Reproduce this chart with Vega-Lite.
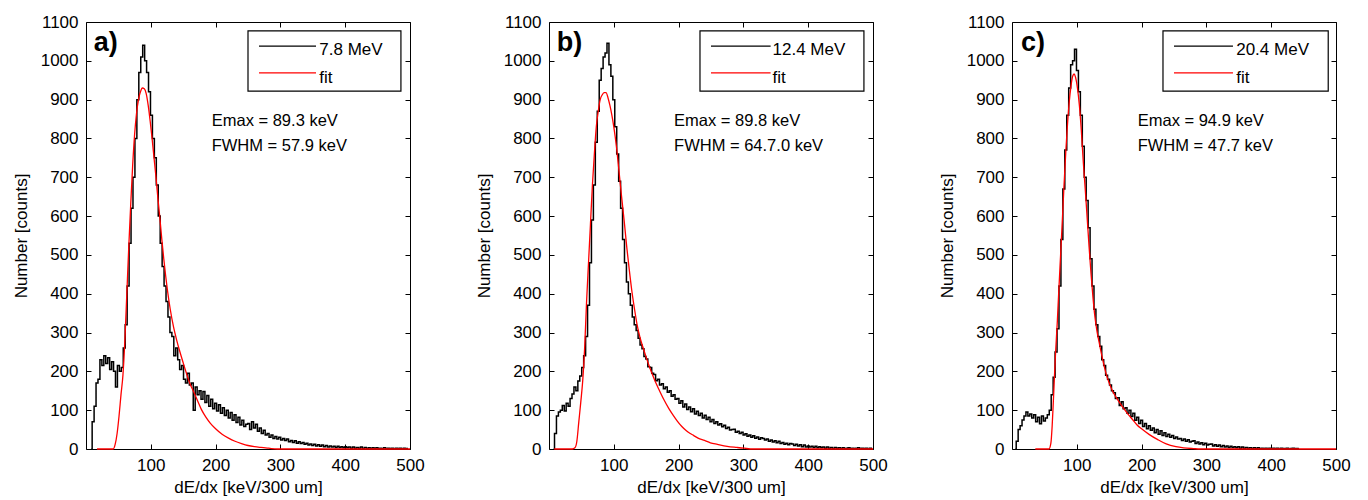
{
"$schema":"https://vega.github.io/schema/vega-lite/v6.json",
"padding":{"left":11,"top":12,"right":5,"bottom":2},
"background":"white",
"config":{"view":{"stroke":"#000","strokeWidth":1},"font":"Liberation Sans",
"axis":{"grid":false,"domain":false,"tickColor":"#000","tickSize":-5,"tickWidth":1,"labelColor":"#000","labelFontSize":17,"labelFont":"Liberation Sans","titleFont":"Liberation Sans","titleFontSize":17,"titleFontWeight":"normal","titleColor":"#000","labelPadding":13,"labelFlush":false,"format":"d"}},
"spacing":139,
"bounds":"flush",
"datasets":{
"hist_a":[{"x":8,"y":0},{"x":11,"y":70},{"x":14,"y":110},{"x":17,"y":170},{"x":20,"y":180},{"x":23,"y":230},{"x":26,"y":215},{"x":29,"y":240},{"x":32,"y":220},{"x":35,"y":235},{"x":38,"y":205},{"x":41,"y":225},{"x":44,"y":200},{"x":47,"y":160},{"x":50,"y":215},{"x":53,"y":200},{"x":56,"y":210},{"x":59,"y":260},{"x":62,"y":320},{"x":65,"y":420},{"x":68,"y":530},{"x":71,"y":620},{"x":74,"y":700},{"x":77,"y":800},{"x":80,"y":900},{"x":83,"y":970},{"x":86,"y":1010},{"x":89,"y":1040},{"x":92,"y":1000},{"x":95,"y":970},{"x":98,"y":920},{"x":101,"y":860},{"x":104,"y":800},{"x":107,"y":750},{"x":110,"y":680},{"x":113,"y":600},{"x":116,"y":530},{"x":119,"y":470},{"x":122,"y":420},{"x":125,"y":380},{"x":128,"y":340},{"x":131,"y":300},{"x":134,"y":290},{"x":137,"y":240},{"x":140,"y":260},{"x":143,"y":230},{"x":146,"y":205},{"x":149,"y":215},{"x":152,"y":180},{"x":155,"y":170},{"x":158,"y":195},{"x":161,"y":165},{"x":164,"y":170},{"x":167,"y":100},{"x":170,"y":160},{"x":173,"y":140},{"x":176,"y":150},{"x":179,"y":128},{"x":182,"y":148},{"x":185,"y":120},{"x":188,"y":138},{"x":191,"y":110},{"x":194,"y":128},{"x":197,"y":104},{"x":200,"y":118},{"x":203,"y":98},{"x":206,"y":114},{"x":209,"y":92},{"x":212,"y":106},{"x":215,"y":86},{"x":218,"y":100},{"x":221,"y":80},{"x":224,"y":94},{"x":227,"y":74},{"x":230,"y":88},{"x":233,"y":68},{"x":236,"y":82},{"x":239,"y":62},{"x":242,"y":74},{"x":245,"y":58},{"x":248,"y":64},{"x":251,"y":66},{"x":254,"y":50},{"x":257,"y":70},{"x":260,"y":54},{"x":263,"y":64},{"x":266,"y":46},{"x":269,"y":54},{"x":272,"y":40},{"x":275,"y":48},{"x":278,"y":36},{"x":281,"y":40},{"x":284,"y":30},{"x":287,"y":36},{"x":290,"y":27},{"x":293,"y":32},{"x":296,"y":26},{"x":299,"y":30},{"x":302,"y":23},{"x":305,"y":27},{"x":308,"y":22},{"x":311,"y":26},{"x":314,"y":19},{"x":317,"y":22},{"x":320,"y":17},{"x":323,"y":21},{"x":326,"y":15},{"x":329,"y":19},{"x":332,"y":14},{"x":335,"y":17},{"x":338,"y":12},{"x":341,"y":15},{"x":344,"y":10},{"x":347,"y":13},{"x":350,"y":9},{"x":353,"y":12},{"x":356,"y":8},{"x":359,"y":11},{"x":362,"y":7},{"x":365,"y":10},{"x":368,"y":6},{"x":371,"y":9},{"x":374,"y":5},{"x":377,"y":8},{"x":380,"y":5},{"x":383,"y":7},{"x":386,"y":4},{"x":389,"y":7},{"x":392,"y":4},{"x":395,"y":6},{"x":398,"y":3},{"x":401,"y":6},{"x":404,"y":3},{"x":407,"y":5},{"x":410,"y":2},{"x":413,"y":5},{"x":416,"y":2},{"x":419,"y":4},{"x":422,"y":2},{"x":425,"y":5},{"x":428,"y":1},{"x":431,"y":4},{"x":434,"y":1},{"x":437,"y":3},{"x":440,"y":1},{"x":443,"y":3},{"x":446,"y":1},{"x":449,"y":3},{"x":452,"y":1},{"x":455,"y":2},{"x":458,"y":1},{"x":461,"y":3},{"x":464,"y":0},{"x":467,"y":2},{"x":470,"y":1},{"x":473,"y":2},{"x":476,"y":0},{"x":479,"y":2},{"x":482,"y":1},{"x":485,"y":2},{"x":488,"y":0},{"x":491,"y":2},{"x":494,"y":1},{"x":497,"y":1}],
"fit_a":[{"x":17,"y":0},{"x":42,"y":0},{"x":45,"y":12},{"x":48,"y":40},{"x":51,"y":85},{"x":54,"y":140},{"x":57,"y":190},{"x":60,"y":280},{"x":63,"y":400},{"x":66,"y":520},{"x":69,"y":630},{"x":72,"y":730},{"x":75,"y":810},{"x":78,"y":865},{"x":81,"y":900},{"x":84,"y":920},{"x":87,"y":930},{"x":90,"y":928},{"x":93,"y":915},{"x":96,"y":885},{"x":99,"y":845},{"x":102,"y":800},{"x":105,"y":750},{"x":108,"y":700},{"x":111,"y":645},{"x":114,"y":595},{"x":117,"y":540},{"x":120,"y":490},{"x":123,"y":445},{"x":126,"y":405},{"x":130,"y":360},{"x":135,"y":315},{"x":140,"y":280},{"x":145,"y":250},{"x":150,"y":222},{"x":155,"y":195},{"x":160,"y":170},{"x":166,"y":148},{"x":172,"y":125},{"x":178,"y":102},{"x":185,"y":82},{"x":192,"y":66},{"x":200,"y":52},{"x":210,"y":38},{"x":220,"y":28},{"x":230,"y":20},{"x":240,"y":14},{"x":250,"y":9},{"x":260,"y":6},{"x":270,"y":4},{"x":282,"y":2},{"x":295,"y":0},{"x":500,"y":0}],
"hist_b":[{"x":7,"y":0},{"x":10,"y":40},{"x":13,"y":85},{"x":16,"y":95},{"x":19,"y":100},{"x":22,"y":112},{"x":25,"y":98},{"x":28,"y":118},{"x":31,"y":110},{"x":34,"y":130},{"x":37,"y":142},{"x":40,"y":160},{"x":43,"y":150},{"x":46,"y":175},{"x":49,"y":188},{"x":52,"y":210},{"x":55,"y":240},{"x":58,"y":290},{"x":61,"y":370},{"x":64,"y":480},{"x":67,"y":590},{"x":70,"y":680},{"x":73,"y":790},{"x":76,"y":870},{"x":79,"y":950},{"x":82,"y":980},{"x":85,"y":1010},{"x":88,"y":1020},{"x":91,"y":1045},{"x":94,"y":990},{"x":97,"y":960},{"x":100,"y":900},{"x":103,"y":830},{"x":106,"y":760},{"x":109,"y":690},{"x":112,"y":620},{"x":115,"y":540},{"x":118,"y":480},{"x":121,"y":430},{"x":124,"y":400},{"x":127,"y":370},{"x":130,"y":340},{"x":133,"y":320},{"x":136,"y":305},{"x":139,"y":285},{"x":142,"y":268},{"x":145,"y":258},{"x":148,"y":238},{"x":151,"y":232},{"x":154,"y":212},{"x":157,"y":210},{"x":160,"y":195},{"x":163,"y":192},{"x":166,"y":176},{"x":169,"y":180},{"x":172,"y":165},{"x":175,"y":168},{"x":178,"y":155},{"x":181,"y":160},{"x":184,"y":146},{"x":187,"y":150},{"x":190,"y":136},{"x":193,"y":140},{"x":196,"y":128},{"x":199,"y":130},{"x":202,"y":118},{"x":205,"y":124},{"x":208,"y":108},{"x":211,"y":116},{"x":214,"y":102},{"x":217,"y":108},{"x":220,"y":96},{"x":223,"y":104},{"x":226,"y":90},{"x":229,"y":97},{"x":232,"y":86},{"x":235,"y":92},{"x":238,"y":80},{"x":241,"y":87},{"x":244,"y":76},{"x":247,"y":82},{"x":250,"y":70},{"x":253,"y":76},{"x":256,"y":66},{"x":259,"y":70},{"x":262,"y":62},{"x":265,"y":65},{"x":268,"y":57},{"x":271,"y":61},{"x":274,"y":53},{"x":277,"y":56},{"x":280,"y":49},{"x":283,"y":50},{"x":286,"y":51},{"x":289,"y":43},{"x":292,"y":46},{"x":295,"y":40},{"x":298,"y":43},{"x":301,"y":36},{"x":304,"y":39},{"x":307,"y":33},{"x":310,"y":36},{"x":313,"y":30},{"x":316,"y":34},{"x":319,"y":28},{"x":322,"y":31},{"x":325,"y":25},{"x":328,"y":29},{"x":331,"y":27},{"x":334,"y":23},{"x":337,"y":26},{"x":340,"y":20},{"x":343,"y":23},{"x":346,"y":18},{"x":349,"y":21},{"x":352,"y":16},{"x":355,"y":20},{"x":358,"y":14},{"x":361,"y":17},{"x":364,"y":12},{"x":367,"y":15},{"x":370,"y":11},{"x":373,"y":14},{"x":376,"y":13},{"x":379,"y":9},{"x":382,"y":12},{"x":385,"y":8},{"x":388,"y":11},{"x":391,"y":6},{"x":394,"y":10},{"x":397,"y":5},{"x":400,"y":8},{"x":403,"y":5},{"x":406,"y":7},{"x":409,"y":4},{"x":412,"y":7},{"x":415,"y":3},{"x":418,"y":6},{"x":421,"y":3},{"x":424,"y":5},{"x":427,"y":2},{"x":430,"y":5},{"x":433,"y":2},{"x":436,"y":4},{"x":439,"y":1},{"x":442,"y":4},{"x":445,"y":2},{"x":448,"y":3},{"x":451,"y":1},{"x":454,"y":3},{"x":457,"y":1},{"x":460,"y":2},{"x":463,"y":3},{"x":466,"y":1},{"x":469,"y":2},{"x":472,"y":1},{"x":475,"y":2},{"x":478,"y":3},{"x":481,"y":0},{"x":484,"y":2},{"x":487,"y":1},{"x":490,"y":2},{"x":493,"y":0},{"x":496,"y":2},{"x":499,"y":0}],
"fit_b":[{"x":8,"y":0},{"x":36,"y":0},{"x":40,"y":3},{"x":43,"y":20},{"x":46,"y":70},{"x":49,"y":120},{"x":52,"y":175},{"x":55,"y":260},{"x":58,"y":380},{"x":61,"y":480},{"x":64,"y":580},{"x":67,"y":680},{"x":70,"y":760},{"x":73,"y":830},{"x":76,"y":870},{"x":79,"y":900},{"x":82,"y":912},{"x":85,"y":918},{"x":88,"y":918},{"x":91,"y":905},{"x":94,"y":885},{"x":97,"y":860},{"x":100,"y":830},{"x":104,"y":780},{"x":108,"y":716},{"x":112,"y":650},{"x":116,"y":588},{"x":120,"y":520},{"x":124,"y":460},{"x":128,"y":405},{"x":132,"y":360},{"x":136,"y":320},{"x":140,"y":290},{"x":145,"y":262},{"x":150,"y":236},{"x":155,"y":212},{"x":160,"y":190},{"x":165,"y":170},{"x":170,"y":152},{"x":177,"y":128},{"x":185,"y":104},{"x":192,"y":86},{"x":198,"y":72},{"x":205,"y":58},{"x":212,"y":47},{"x":218,"y":40},{"x":223,"y":35},{"x":230,"y":28},{"x":240,"y":22},{"x":249,"y":16},{"x":260,"y":12},{"x":275,"y":7},{"x":290,"y":4},{"x":301,"y":2},{"x":315,"y":0},{"x":500,"y":0}],
"hist_c":[{"x":5,"y":0},{"x":8,"y":20},{"x":11,"y":50},{"x":14,"y":60},{"x":17,"y":75},{"x":20,"y":85},{"x":23,"y":95},{"x":26,"y":85},{"x":29,"y":90},{"x":32,"y":80},{"x":35,"y":88},{"x":38,"y":70},{"x":41,"y":82},{"x":44,"y":65},{"x":47,"y":85},{"x":50,"y":72},{"x":53,"y":80},{"x":56,"y":88},{"x":59,"y":100},{"x":62,"y":140},{"x":65,"y":185},{"x":68,"y":250},{"x":71,"y":310},{"x":74,"y":420},{"x":77,"y":540},{"x":80,"y":670},{"x":83,"y":770},{"x":86,"y":860},{"x":89,"y":930},{"x":92,"y":990},{"x":95,"y":1000},{"x":98,"y":1030},{"x":101,"y":975},{"x":104,"y":920},{"x":107,"y":860},{"x":110,"y":780},{"x":113,"y":700},{"x":116,"y":640},{"x":119,"y":570},{"x":122,"y":490},{"x":125,"y":420},{"x":128,"y":360},{"x":131,"y":320},{"x":134,"y":290},{"x":137,"y":265},{"x":140,"y":230},{"x":143,"y":215},{"x":146,"y":190},{"x":149,"y":180},{"x":152,"y":165},{"x":155,"y":150},{"x":158,"y":145},{"x":161,"y":130},{"x":164,"y":132},{"x":167,"y":112},{"x":170,"y":122},{"x":173,"y":104},{"x":176,"y":106},{"x":179,"y":92},{"x":182,"y":100},{"x":185,"y":84},{"x":188,"y":92},{"x":191,"y":74},{"x":194,"y":82},{"x":197,"y":66},{"x":200,"y":74},{"x":203,"y":58},{"x":206,"y":66},{"x":209,"y":52},{"x":212,"y":60},{"x":215,"y":48},{"x":218,"y":54},{"x":221,"y":42},{"x":224,"y":50},{"x":227,"y":38},{"x":230,"y":47},{"x":233,"y":35},{"x":236,"y":42},{"x":239,"y":32},{"x":242,"y":38},{"x":245,"y":30},{"x":248,"y":35},{"x":251,"y":27},{"x":254,"y":31},{"x":257,"y":26},{"x":260,"y":27},{"x":263,"y":22},{"x":266,"y":26},{"x":269,"y":20},{"x":272,"y":24},{"x":275,"y":18},{"x":278,"y":20},{"x":281,"y":21},{"x":284,"y":14},{"x":287,"y":18},{"x":290,"y":13},{"x":293,"y":16},{"x":296,"y":11},{"x":299,"y":15},{"x":302,"y":10},{"x":305,"y":12},{"x":308,"y":13},{"x":311,"y":8},{"x":314,"y":11},{"x":317,"y":7},{"x":320,"y":10},{"x":323,"y":6},{"x":326,"y":9},{"x":329,"y":5},{"x":332,"y":8},{"x":335,"y":4},{"x":338,"y":7},{"x":341,"y":4},{"x":344,"y":6},{"x":347,"y":3},{"x":350,"y":6},{"x":353,"y":2},{"x":356,"y":5},{"x":359,"y":2},{"x":362,"y":4},{"x":365,"y":2},{"x":368,"y":3},{"x":371,"y":1},{"x":374,"y":3},{"x":377,"y":1},{"x":380,"y":3},{"x":383,"y":1},{"x":386,"y":2},{"x":389,"y":1},{"x":392,"y":2},{"x":395,"y":1},{"x":398,"y":2},{"x":401,"y":0},{"x":404,"y":2},{"x":407,"y":1},{"x":410,"y":2},{"x":413,"y":0},{"x":416,"y":2},{"x":419,"y":1},{"x":422,"y":1},{"x":425,"y":2},{"x":428,"y":0},{"x":431,"y":1},{"x":434,"y":2},{"x":437,"y":1},{"x":440,"y":1},{"x":443,"y":0}],
"fit_c":[{"x":36,"y":0},{"x":57,"y":0},{"x":60,"y":15},{"x":62,"y":60},{"x":64,"y":130},{"x":67,"y":240},{"x":70,"y":330},{"x":72,"y":400},{"x":75,"y":500},{"x":78,"y":600},{"x":80,"y":670},{"x":83,"y":765},{"x":85,"y":820},{"x":88,"y":888},{"x":91,"y":935},{"x":94,"y":962},{"x":96,"y":966},{"x":98,"y":958},{"x":101,"y":930},{"x":104,"y":885},{"x":107,"y":820},{"x":110,"y":740},{"x":113,"y":670},{"x":116,"y":595},{"x":119,"y":520},{"x":122,"y":450},{"x":125,"y":390},{"x":128,"y":340},{"x":131,"y":305},{"x":135,"y":270},{"x":140,"y":230},{"x":145,"y":195},{"x":150,"y":170},{"x":155,"y":150},{"x":160,"y":135},{"x":165,"y":122},{"x":172,"y":105},{"x":179,"y":90},{"x":186,"y":76},{"x":193,"y":62},{"x":200,"y":52},{"x":212,"y":37},{"x":225,"y":24},{"x":238,"y":13},{"x":253,"y":6},{"x":265,"y":3},{"x":280,"y":1},{"x":290,"y":0},{"x":500,"y":0}]
},
"hconcat":[
{"width":324,"height":427,"layer":[
{"data":{"name":"hist_a"},"mark":{"type":"line","interpolate":"step","color":"#000","strokeWidth":1.5},"encoding":{"x":{"field":"x","type":"quantitative","scale":{"domain":[0,500],"nice":false},"axis":{"orient":"bottom","values":[100,200,300,400,500],"title":"dE/dx [keV/300 um]","titlePadding":6}},"y":{"field":"y","type":"quantitative","scale":{"domain":[0,1100],"nice":false},"axis":{"orient":"left","values":[0,100,200,300,400,500,600,700,800,900,1000,1100],"title":"Number [counts]","titlePadding":10}}}},
{"data":{"name":"fit_a"},"mark":{"type":"line","interpolate":"monotone","color":"#ff0000","strokeWidth":1.3},"encoding":{"x":{"field":"x","type":"quantitative","axis":null},"y":{"field":"y","type":"quantitative","axis":null}}},
{"data":{"name":"fit_a"},"mark":{"type":"point","opacity":0},"encoding":{"x":{"field":"x","type":"quantitative","axis":{"orient":"top","labels":false,"title":null,"values":[100,200,300,400,500]}},"y":{"field":"y","type":"quantitative","axis":{"orient":"right","labels":false,"title":null,"values":[0,100,200,300,400,500,600,700,800,900,1000,1100]}}}},
{"data":{"values":[{"x":250,"x2":486,"y":1077,"y2":922}]},"mark":{"type":"rect","fill":"white","stroke":"#000","strokeWidth":1.2},"encoding":{"x":{"field":"x","type":"quantitative","axis":null},"x2":{"field":"x2"},"y":{"field":"y","type":"quantitative","axis":null},"y2":{"field":"y2"}}},
{"data":{"values":[{"x":267,"x2":355,"y":1038,"s":"h"},{"x":267,"x2":355,"y":969,"s":"f"}]},"mark":{"type":"rule","strokeWidth":1.3},"encoding":{"x":{"field":"x","type":"quantitative","axis":null},"x2":{"field":"x2"},"y":{"field":"y","type":"quantitative","axis":null},"color":{"field":"s","type":"nominal","scale":{"domain":["h","f"],"range":["#000000","#ff0000"]},"legend":null}}},
{"data":{"values":[{"x":360,"y":1015,"t":"7.8 MeV"},{"x":360,"y":943,"t":"fit"}]},"mark":{"type":"text","align":"left","baseline":"alphabetic","fontSize":17,"color":"#000"},"encoding":{"x":{"field":"x","type":"quantitative","axis":null},"y":{"field":"y","type":"quantitative","axis":null},"text":{"field":"t"}}},
{"data":{"values":[{"x":194,"y":832,"t":"Emax = 89.3 keV"},{"x":194,"y":768,"t":"FWHM = 57.9 keV"}]},"mark":{"type":"text","align":"left","baseline":"alphabetic","fontSize":16.5,"color":"#000"},"encoding":{"x":{"field":"x","type":"quantitative","axis":null},"y":{"field":"y","type":"quantitative","axis":null},"text":{"field":"t"}}},
{"data":{"values":[{"x":12,"y":1025,"t":"a)"}]},"mark":{"type":"text","align":"left","baseline":"alphabetic","fontSize":27,"fontWeight":"bold","color":"#000"},"encoding":{"x":{"field":"x","type":"quantitative","axis":null},"y":{"field":"y","type":"quantitative","axis":null},"text":{"field":"t"}}}
],"resolve":{"axis":{"x":"independent","y":"independent"}}},
{"width":324,"height":427,"layer":[
{"data":{"name":"hist_b"},"mark":{"type":"line","interpolate":"step","color":"#000","strokeWidth":1.5},"encoding":{"x":{"field":"x","type":"quantitative","scale":{"domain":[0,500],"nice":false},"axis":{"orient":"bottom","values":[100,200,300,400,500],"title":"dE/dx [keV/300 um]","titlePadding":6}},"y":{"field":"y","type":"quantitative","scale":{"domain":[0,1100],"nice":false},"axis":{"orient":"left","values":[0,100,200,300,400,500,600,700,800,900,1000,1100],"title":"Number [counts]","titlePadding":10}}}},
{"data":{"name":"fit_b"},"mark":{"type":"line","interpolate":"monotone","color":"#ff0000","strokeWidth":1.3},"encoding":{"x":{"field":"x","type":"quantitative","axis":null},"y":{"field":"y","type":"quantitative","axis":null}}},
{"data":{"name":"fit_b"},"mark":{"type":"point","opacity":0},"encoding":{"x":{"field":"x","type":"quantitative","axis":{"orient":"top","labels":false,"title":null,"values":[100,200,300,400,500]}},"y":{"field":"y","type":"quantitative","axis":{"orient":"right","labels":false,"title":null,"values":[0,100,200,300,400,500,600,700,800,900,1000,1100]}}}},
{"data":{"values":[{"x":233,"x2":486,"y":1077,"y2":922}]},"mark":{"type":"rect","fill":"white","stroke":"#000","strokeWidth":1.2},"encoding":{"x":{"field":"x","type":"quantitative","axis":null},"x2":{"field":"x2"},"y":{"field":"y","type":"quantitative","axis":null},"y2":{"field":"y2"}}},
{"data":{"values":[{"x":250,"x2":342,"y":1038,"s":"h"},{"x":250,"x2":342,"y":969,"s":"f"}]},"mark":{"type":"rule","strokeWidth":1.3},"encoding":{"x":{"field":"x","type":"quantitative","axis":null},"x2":{"field":"x2"},"y":{"field":"y","type":"quantitative","axis":null},"color":{"field":"s","type":"nominal","scale":{"domain":["h","f"],"range":["#000000","#ff0000"]},"legend":null}}},
{"data":{"values":[{"x":345,"y":1015,"t":"12.4 MeV"},{"x":345,"y":943,"t":"fit"}]},"mark":{"type":"text","align":"left","baseline":"alphabetic","fontSize":17,"color":"#000"},"encoding":{"x":{"field":"x","type":"quantitative","axis":null},"y":{"field":"y","type":"quantitative","axis":null},"text":{"field":"t"}}},
{"data":{"values":[{"x":193,"y":832,"t":"Emax = 89.8 keV"},{"x":193,"y":768,"t":"FWHM = 64.7.0 keV"}]},"mark":{"type":"text","align":"left","baseline":"alphabetic","fontSize":16.5,"color":"#000"},"encoding":{"x":{"field":"x","type":"quantitative","axis":null},"y":{"field":"y","type":"quantitative","axis":null},"text":{"field":"t"}}},
{"data":{"values":[{"x":12,"y":1025,"t":"b)"}]},"mark":{"type":"text","align":"left","baseline":"alphabetic","fontSize":27,"fontWeight":"bold","color":"#000"},"encoding":{"x":{"field":"x","type":"quantitative","axis":null},"y":{"field":"y","type":"quantitative","axis":null},"text":{"field":"t"}}}
],"resolve":{"axis":{"x":"independent","y":"independent"}}},
{"width":324,"height":427,"layer":[
{"data":{"name":"hist_c"},"mark":{"type":"line","interpolate":"step","color":"#000","strokeWidth":1.5},"encoding":{"x":{"field":"x","type":"quantitative","scale":{"domain":[0,500],"nice":false},"axis":{"orient":"bottom","values":[100,200,300,400,500],"title":"dE/dx [keV/300 um]","titlePadding":6}},"y":{"field":"y","type":"quantitative","scale":{"domain":[0,1100],"nice":false},"axis":{"orient":"left","values":[0,100,200,300,400,500,600,700,800,900,1000,1100],"title":"Number [counts]","titlePadding":10}}}},
{"data":{"name":"fit_c"},"mark":{"type":"line","interpolate":"monotone","color":"#ff0000","strokeWidth":1.3},"encoding":{"x":{"field":"x","type":"quantitative","axis":null},"y":{"field":"y","type":"quantitative","axis":null}}},
{"data":{"name":"fit_c"},"mark":{"type":"point","opacity":0},"encoding":{"x":{"field":"x","type":"quantitative","axis":{"orient":"top","labels":false,"title":null,"values":[100,200,300,400,500]}},"y":{"field":"y","type":"quantitative","axis":{"orient":"right","labels":false,"title":null,"values":[0,100,200,300,400,500,600,700,800,900,1000,1100]}}}},
{"data":{"values":[{"x":233,"x2":488,"y":1077,"y2":922}]},"mark":{"type":"rect","fill":"white","stroke":"#000","strokeWidth":1.2},"encoding":{"x":{"field":"x","type":"quantitative","axis":null},"x2":{"field":"x2"},"y":{"field":"y","type":"quantitative","axis":null},"y2":{"field":"y2"}}},
{"data":{"values":[{"x":250,"x2":341,"y":1038,"s":"h"},{"x":250,"x2":341,"y":969,"s":"f"}]},"mark":{"type":"rule","strokeWidth":1.3},"encoding":{"x":{"field":"x","type":"quantitative","axis":null},"x2":{"field":"x2"},"y":{"field":"y","type":"quantitative","axis":null},"color":{"field":"s","type":"nominal","scale":{"domain":["h","f"],"range":["#000000","#ff0000"]},"legend":null}}},
{"data":{"values":[{"x":346,"y":1015,"t":"20.4 MeV"},{"x":346,"y":943,"t":"fit"}]},"mark":{"type":"text","align":"left","baseline":"alphabetic","fontSize":17,"color":"#000"},"encoding":{"x":{"field":"x","type":"quantitative","axis":null},"y":{"field":"y","type":"quantitative","axis":null},"text":{"field":"t"}}},
{"data":{"values":[{"x":194,"y":832,"t":"Emax = 94.9 keV"},{"x":194,"y":768,"t":"FWHM = 47.7 keV"}]},"mark":{"type":"text","align":"left","baseline":"alphabetic","fontSize":16.5,"color":"#000"},"encoding":{"x":{"field":"x","type":"quantitative","axis":null},"y":{"field":"y","type":"quantitative","axis":null},"text":{"field":"t"}}},
{"data":{"values":[{"x":14,"y":1025,"t":"c)"}]},"mark":{"type":"text","align":"left","baseline":"alphabetic","fontSize":27,"fontWeight":"bold","color":"#000"},"encoding":{"x":{"field":"x","type":"quantitative","axis":null},"y":{"field":"y","type":"quantitative","axis":null},"text":{"field":"t"}}}
],"resolve":{"axis":{"x":"independent","y":"independent"}}}
]
}
